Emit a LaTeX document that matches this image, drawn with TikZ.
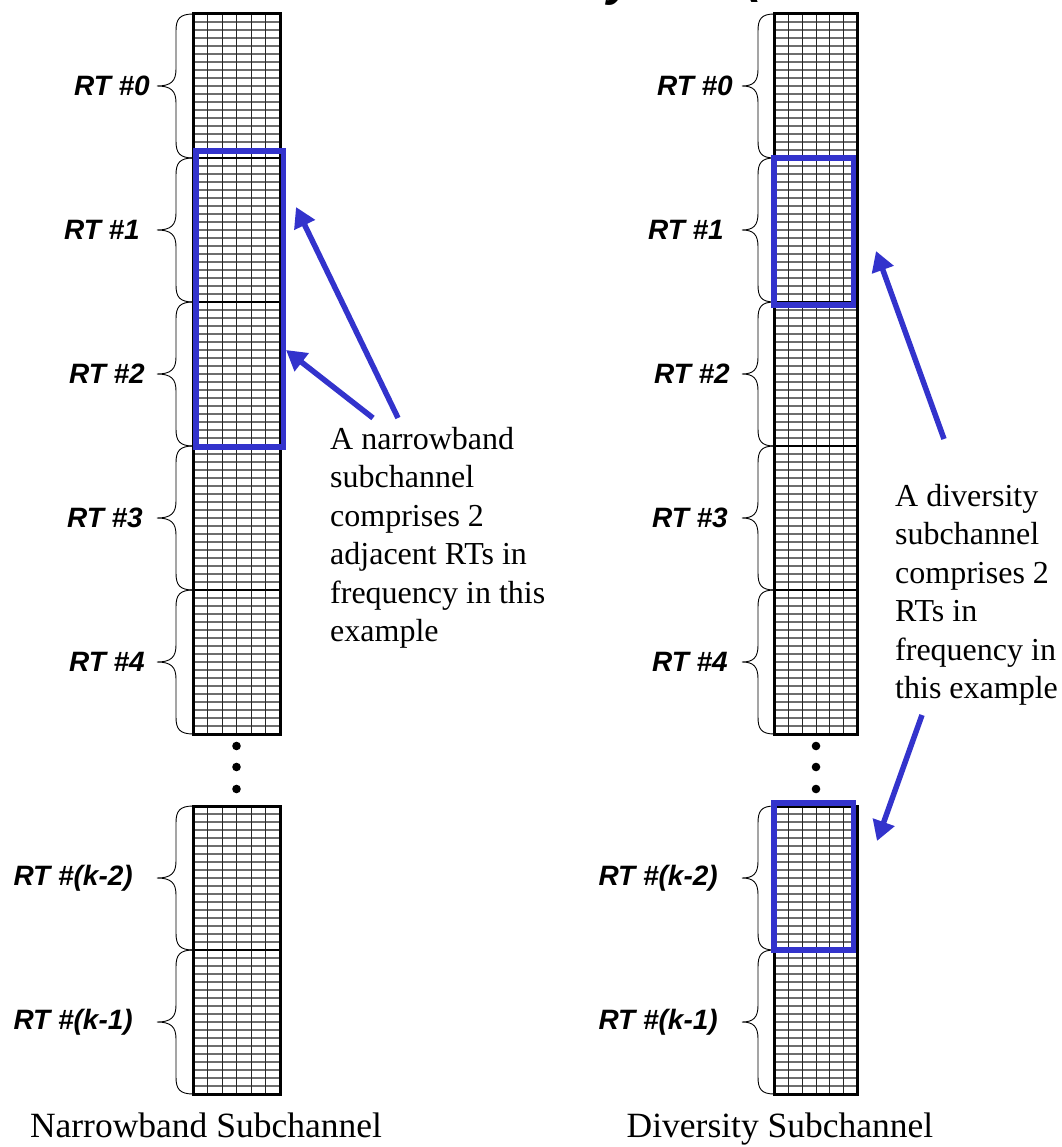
\documentclass[tikz,border=0pt]{standalone}
\usepackage{fontspec}
\setmainfont{Liberation Serif}
\newfontfamily\labelfont{Liberation Sans}
\usetikzlibrary{arrows.meta,calc}

\definecolor{selblue}{RGB}{51,51,204}
\definecolor{gridgray}{RGB}{110,110,110}

\tikzset{
  % one resource tile: 18 rows by 6 columns
  rtcell/.style={draw=black, line width=2.4pt, inner sep=0pt, outer sep=0pt,
    minimum width=#1, minimum height=144pt, anchor=north west,
    path picture={
      \foreach \i in {1,...,17}
        \draw[gridgray, line width=2pt]
          ($(path picture bounding box.north west)!\i/18!(path picture bounding box.south west)$) --
          ($(path picture bounding box.north east)!\i/18!(path picture bounding box.south east)$);
      \foreach \j in {1,...,5}
        \draw[black!85, line width=1pt]
          ($(path picture bounding box.north west)!\j/6!(path picture bounding box.north east)$) --
          ($(path picture bounding box.south west)!\j/6!(path picture bounding box.south east)$);
    }},
  colborder/.style={draw=black, line width=3pt},
  rtlabel/.style={anchor=east, inner sep=0pt,
    font=\labelfont\bfseries\itshape\fontsize{28}{28}\selectfont},
  bracestyle/.style={draw=black, line width=0.9pt},
  selbox/.style={draw=selblue, line width=5.6pt},
  selarrow/.style={draw=selblue, line width=5.5pt,
    -{Triangle[length=20pt,width=22pt]}},
  note/.style={anchor=north west, inner sep=0pt, align=left,
    font=\fontsize{32}{38.5}\selectfont},
  caption/.style={anchor=base, inner sep=0pt,
    font=\fontsize{35.5}{40}\selectfont},
  dotmark/.style={fill=black},
  titlefrag/.style={anchor=base, inner sep=0pt,
    font=\labelfont\bfseries\itshape\fontsize{48}{48}\selectfont},
}

% curly brace on the left side of a tile: #1 node, #2 body offset, #3 tip offset
\newcommand\tilebrace[3]{%
  \draw[bracestyle] (#1.north west)
    .. controls +(-#2*0.8,0) and +(0,-12) .. ++(-#2,17)
    -- ++(0,38)
    .. controls +(0,12) and +(#3*0.75,0) .. ++(-#3,17)
    .. controls +(#3*0.75,0) and +(0,-12) .. ++(#3,17)
    -- ++(0,38)
    .. controls +(0,12) and +(-#2*0.8,0) .. ++(#2,17);}

\begin{document}
\begin{tikzpicture}[x=1pt,y=-1pt]
\useasboundingbox (0,0) rectangle (1061,1147);
\clip (0,0) rectangle (1061,1147);

% heading that runs off the top edge, only its lowest strokes remain
\node[titlefrag] (ttly) at (621,-4) {y};
\node[titlefrag] (ttlp) at (754,-7) {(};

% ---------- narrowband column ----------
\foreach \k/\y in {0/14,1/158,2/302,3/446,4/590,5/806,6/950}
  \node[rtcell=86.5pt] (L\k) at (193.5,\y) {};
\draw[colborder] (L0.north west) rectangle (L4.south east);
\draw[colborder] (L5.north west) rectangle (L6.south east);
\foreach \k in {0,...,6} \tilebrace{L\k}{17.5}{19};

\node[rtlabel] (lt0) at (150,86) {RT \#0};
\node[rtlabel] (lt1) at (140,230) {RT \#1};
\node[rtlabel] (lt2) at (145,374) {RT \#2};
\node[rtlabel] (lt3) at (143,518) {RT \#3};
\node[rtlabel] (lt4) at (145,662) {RT \#4};
\node[rtlabel] (lt5) at (133,878) {RT \#(k-2)};
\node[rtlabel] (lt6) at (133,1022) {RT \#(k-1)};

\foreach \y in {746,767,789} \fill[dotmark] (236.5,\y) circle (4.3pt);

\draw[selbox] (196,151) rectangle (283.5,447);

\node[note] (nbnote) at (330,427) {A narrowband\\subchannel\\comprises 2\\adjacent RTs in\\frequency in this\\example};
\coordinate (nbtailA) at (398,418);
\coordinate (nbtipA) at (296,207);
\coordinate (nbtailB) at (373,418);
\coordinate (nbtipB) at (286,350);
\draw[selarrow] (nbtailA) -- (nbtipA);
\draw[selarrow] (nbtailB) -- (nbtipB);

\node[caption] (nbcap) at (206,1137) {Narrowband Subchannel};

% ---------- diversity column ----------
\foreach \k/\y in {0/14,1/158,2/302,3/446,4/590,5/806,6/950}
  \node[rtcell=83pt] (R\k) at (774.5,\y) {};
\draw[colborder] (R0.north west) rectangle (R4.south east);
\draw[colborder] (R5.north west) rectangle (R6.south east);
\foreach \k in {0,...,6} \tilebrace{R\k}{16.5}{16};

\node[rtlabel] (rt0) at (733,86) {RT \#0};
\node[rtlabel] (rt1) at (724,230) {RT \#1};
\node[rtlabel] (rt2) at (730,374) {RT \#2};
\node[rtlabel] (rt3) at (728,518) {RT \#3};
\node[rtlabel] (rt4) at (728,662) {RT \#4};
\node[rtlabel] (rt5) at (718,878) {RT \#(k-2)};
\node[rtlabel] (rt6) at (718,1022) {RT \#(k-1)};

\foreach \y in {746,767,789} \fill[dotmark] (816,\y) circle (4.3pt);

\draw[selbox] (773.7,158) rectangle (853.3,305);
\draw[selbox] (773.7,802.7) rectangle (853.3,950);

\node[note] (dvnote) at (895,484) {A diversity\\subchannel\\comprises 2\\RTs in\\frequency in\\this example};
\coordinate (dvtailA) at (944,439);
\coordinate (dvtipA) at (876,251);
\coordinate (dvtailB) at (922,715);
\coordinate (dvtipB) at (877,841);
\draw[selarrow] (dvtailA) -- (dvtipA);
\draw[selarrow] (dvtailB) -- (dvtipB);

\node[caption] (dvcap) at (780,1137) {Diversity Subchannel};
\end{tikzpicture}
\end{document}
